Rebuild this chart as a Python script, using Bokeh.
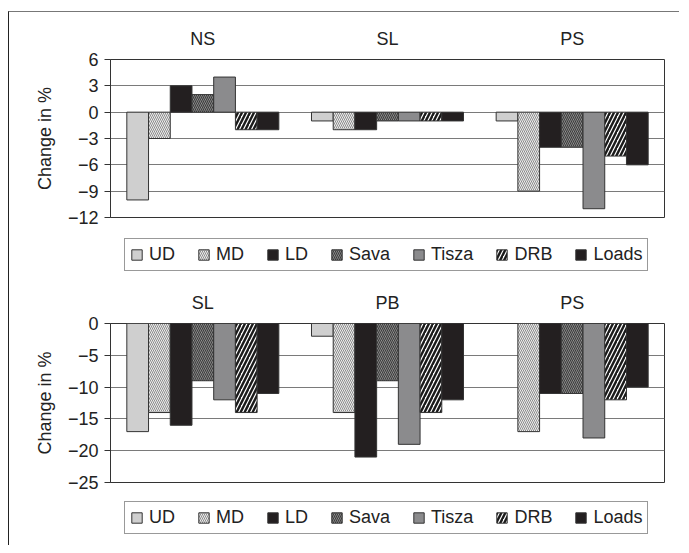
from bokeh.plotting import figure
from bokeh.models import (ColumnDataSource, FactorRange, FixedTicker, Legend, LegendItem)
from bokeh.transform import dodge
from bokeh.layouts import column
from bokeh.embed import file_html
from bokeh.resources import INLINE

# ---------------- data ----------------
series = ["UD", "MD", "LD", "Sava", "Tisza", "DRB", "Loads"]

top_categories = ["NS", "SL", "PS"]
top_ud = [-10, -1, -1]
top_md = [-3, -2, -9]
top_ld = [3, -2, -4]
top_sava = [2, -1, -4]
top_tisza = [4, -1, -11]
top_drb = [-2, -1, -5]
top_loads = [-2, -1, -6]
top_ticks = [-12, -9, -6, -3, 0, 3, 6]

bottom_categories = ["SL", "PB", "PS"]
bottom_ud = [-17, -2, 0]
bottom_md = [-14, -14, -17]
bottom_ld = [-16, -21, -11]
bottom_sava = [-9, -9, -11]
bottom_tisza = [-12, -19, -18]
bottom_drb = [-14, -14, -12]
bottom_loads = [-11, -12, -10]
bottom_ticks = [-25, -20, -15, -10, -5, 0]

y_label = "Change in %"

# ---------------- styles ----------------
FONT = "Liberation Sans"
TXT = "#222222"
styles = {
    "UD": dict(fill_color="#cfcfcf"),
    "MD": dict(fill_color="#ececec", hatch_pattern="left_diagonal_line",
               hatch_color="#8c8c8c", hatch_scale=4, hatch_weight=1),
    "LD": dict(fill_color="#231f20"),
    "Sava": dict(fill_color="#a2a2a2", hatch_pattern="left_diagonal_line",
                 hatch_color="#3c3c3c", hatch_scale=4, hatch_weight=1.2),
    "Tisza": dict(fill_color="#8b8b8d"),
    "DRB": dict(fill_color="#ffffff", hatch_pattern="right_diagonal_line",
                hatch_color="#1a1a1a", hatch_scale=8, hatch_weight=2.4),
    "Loads": dict(fill_color="#231f20"),
}

BAR_W = 0.1176
W = 670


def fmt(v):
    return str(v).replace("-", "\u2212")


def make_source(cats, vals):
    data = {"cat": cats}
    for s, v in zip(series, vals):
        data[s] = v
    return ColumnDataSource(data)


def make_chart(cats, src, ticks, height, border_top, border_bottom):
    p = figure(x_range=FactorRange(factors=cats, range_padding=0),
               y_range=(min(ticks), max(ticks)),
               width=W, height=height, output_backend="svg",
               toolbar_location=None, x_axis_location="above",
               min_border_left=101, min_border_right=15,
               min_border_top=border_top, min_border_bottom=border_bottom)
    for i, s in enumerate(series):
        p.vbar(x=dodge("cat", (i - 3) * BAR_W, range=p.x_range), top=s,
               bottom=0, width=BAR_W, source=src,
               line_color="#333333", line_width=1, **styles[s])

    xa = p.xaxis[0]
    xa.axis_line_color = None
    xa.major_tick_line_color = None
    xa.minor_tick_line_color = None
    xa.major_label_text_font = FONT
    xa.major_label_text_font_size = "18px"
    xa.major_label_text_color = TXT
    xa.major_label_standoff = 5

    ya = p.yaxis[0]
    ya.ticker = FixedTicker(ticks=ticks)
    ya.major_label_overrides = {t: fmt(t) for t in ticks}
    ya.axis_line_color = "#333333"
    ya.major_tick_line_color = "#333333"
    ya.major_tick_out = 6
    ya.major_tick_in = 0
    ya.minor_tick_line_color = None
    ya.major_label_text_font = FONT
    ya.major_label_text_font_size = "18px"
    ya.major_label_text_color = TXT
    ya.major_label_standoff = 6
    ya.axis_label = y_label
    ya.axis_label_text_font = FONT
    ya.axis_label_text_font_style = "normal"
    ya.axis_label_text_font_size = "18px"
    ya.axis_label_text_color = TXT
    ya.axis_label_standoff = 10

    p.xgrid.grid_line_color = None
    p.ygrid.ticker = FixedTicker(ticks=ticks)
    p.ygrid.grid_line_color = "#7a7a7a"
    p.ygrid.grid_line_width = 1
    p.outline_line_color = "#333333"
    p.outline_line_width = 1
    p.background_fill_color = "white"
    p.border_fill_color = "white"
    return p


def make_legend(cats, src, height, legend_y):
    p = figure(width=W, height=height, output_backend="svg",
               toolbar_location=None,
               x_range=FactorRange(factors=cats), y_range=(0, 1),
               x_axis_type=None, y_axis_type=None,
               min_border_left=0, min_border_right=0,
               min_border_top=0, min_border_bottom=0)
    p.grid.visible = False
    p.outline_line_color = None
    items = []
    for i, s in enumerate(series):
        r = p.vbar(x=dodge("cat", (i - 3) * BAR_W, range=p.x_range), top=s,
                   bottom=0, width=BAR_W, source=src, visible=False,
                   line_color="#333333", line_width=1, **styles[s])
        items.append(LegendItem(label=s, renderers=[r]))
    legend = Legend(items=items, orientation="horizontal",
                    location=(14, legend_y),
                    glyph_width=13, glyph_height=13, label_standoff=6,
                    spacing=22, padding=5, margin=0,
                    label_text_font=FONT, label_text_font_size="18px",
                    label_text_color=TXT, border_line_color="#333333",
                    border_line_width=1, background_fill_alpha=1,
                    inactive_fill_alpha=0, click_policy="none")
    p.add_layout(legend, "center")
    return p


src1 = make_source(top_categories,
                   [top_ud, top_md, top_ld, top_sava, top_tisza, top_drb, top_loads])
src2 = make_source(bottom_categories,
                   [bottom_ud, bottom_md, bottom_ld, bottom_sava, bottom_tisza,
                    bottom_drb, bottom_loads])

p1 = make_chart(top_categories, src1, top_ticks, 218, 47, 13)
l1 = make_legend(top_categories, src1, 55, 14)
p2 = make_chart(bottom_categories, src2, bottom_ticks, 210, 38, 13)
l2 = make_legend(bottom_categories, src2, 50, 11)

layout = column(p1, l1, p2, l2, spacing=0,
                styles={"border-left": "1px solid #222222",
                        "border-top": "1px solid #777777",
                        "margin-top": "11px", "margin-left": "8px"})

open("out.html", "w").write(file_html(layout, INLINE))
